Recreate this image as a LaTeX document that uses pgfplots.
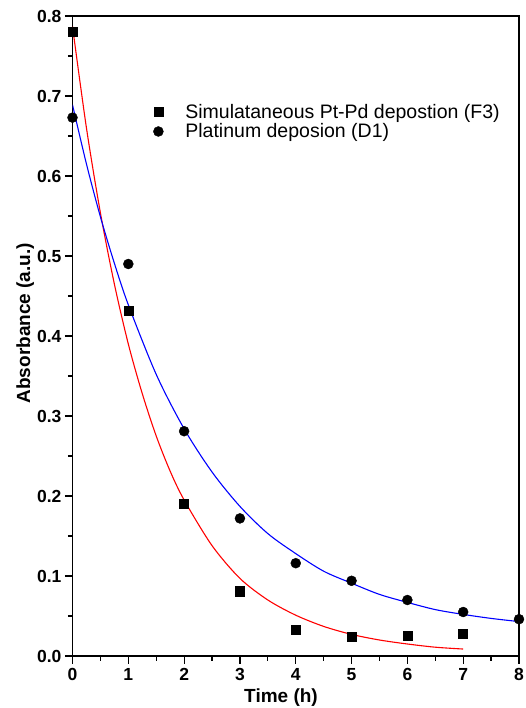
\documentclass[border=0pt]{standalone}
\usepackage{fontspec}
\setmainfont{Liberation Sans}
\usepackage{pgfplots}
\pgfplotsset{compat=1.18}
\usetikzlibrary{calc}
\begin{document}
\begin{tikzpicture}
\begin{axis}[name=ax, scale only axis, width=446.5pt, height=640pt,
  xmin=0, xmax=8, ymin=0, ymax=0.8,
  xtick={0,1,2,3,4,5,6,7,8},
  ytick={0,0.1,0.2,0.3,0.4,0.5,0.6,0.7,0.8},
  minor x tick num=1, minor y tick num=1,
  tick align=outside, xtick pos=bottom, ytick pos=left,
  major tick length=7.5pt, minor tick length=4.5pt,
  every tick/.style={black, line width=1.2pt},
  axis line style={line width=1.2pt},
  /pgf/number format/assume math mode=true,
  yticklabel style={/pgf/number format/fixed, /pgf/number format/fixed zerofill, /pgf/number format/precision=1},
  ticklabel style={font=\fontsize{17.5}{20}\selectfont\bfseries},
  xticklabel style={yshift=-1pt},
  xlabel={Time (h)}, ylabel={Absorbance (a.u.)},
  label style={font=\fontsize{19}{22}\selectfont\bfseries},
  xlabel style={at={(axis description cs:0.467,-0.065)}, anchor=center},
  ylabel style={at={(axis description cs:-0.106,0.52)}, anchor=center},
  legend style={draw=none, fill=none, at={(0.174,0.869)}, anchor=north west,
    font=\fontsize{19.5}{23}\selectfont, row sep=0pt,
    /tikz/every odd column/.append style={column sep=20pt}},
  legend cell align=left,
]
\addplot[only marks, mark=square*, mark size=4.5pt, black] coordinates {
  (0,0.780) (1,0.432) (2,0.190) (3,0.081) (4,0.033) (5,0.024) (6,0.026) (7,0.028)};
\addlegendentry{Simulataneous Pt-Pd depostion (F3)}
\addplot[only marks, mark=*, mark size=5pt, black] coordinates {
  (0,0.673) (1,0.490) (2,0.281) (3,0.172) (4,0.116) (5,0.094) (6,0.070) (7,0.055) (8,0.046)};
\addlegendentry{Platinum deposion (D1)}
\addplot[red, line width=1.1pt, smooth, forget plot] coordinates {
  (0,0.787) (0.25,0.660) (0.5,0.554) (0.75,0.465) (1,0.390) (1.25,0.328) (1.5,0.275)
  (1.75,0.231) (2,0.195) (2.5,0.138) (3,0.097) (3.5,0.070) (4,0.051) (4.5,0.037)
  (5,0.027) (5.5,0.020) (6,0.015) (6.5,0.011) (7,0.0087)};
\addplot[blue, line width=1.1pt, smooth, forget plot] coordinates {
  (0,0.689) (0.25,0.615) (0.5,0.549) (0.75,0.491) (1,0.439) (1.5,0.352) (2,0.284)
  (2.5,0.230) (3,0.187) (3.5,0.153) (4,0.128) (4.5,0.106) (5,0.091) (5.5,0.077)
  (6,0.067) (6.5,0.058) (7,0.052) (7.5,0.047) (8,0.043)};
\end{axis}
\pgfresetboundingbox
\useasboundingbox ($(ax.south west)+(-72.5pt,-52pt)$) rectangle ($(ax.north east)+(7pt,16pt)$);
\end{tikzpicture}
\end{document}
